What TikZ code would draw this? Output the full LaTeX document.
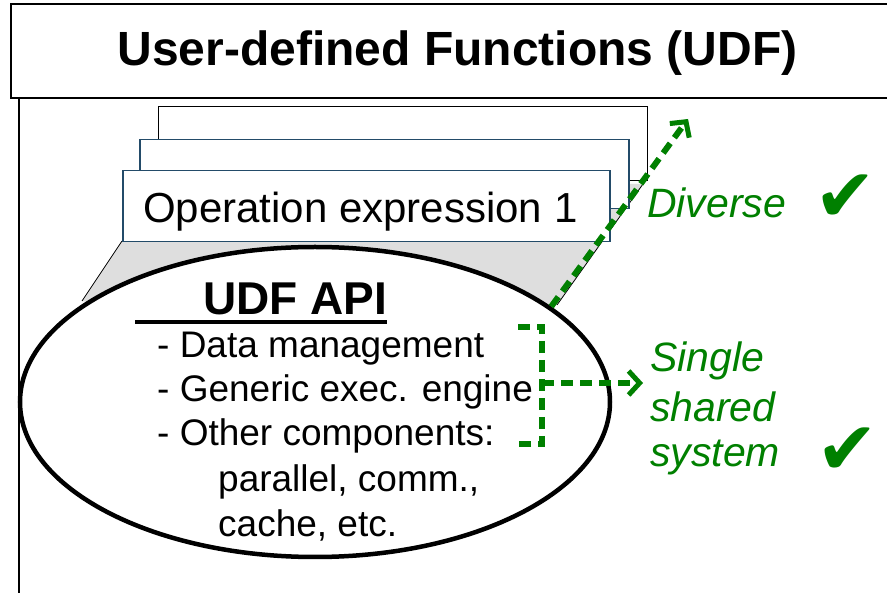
\documentclass[tikz,border=0pt]{standalone}
\usepackage{fontspec}
\setmainfont{Liberation Sans}
\newfontfamily\symfont{DejaVu Sans}
\usetikzlibrary{shapes.geometric,arrows.meta}
\definecolor{okgreen}{RGB}{0,128,0}
\definecolor{rectblue}{RGB}{35,75,105}
\definecolor{shadegray}{RGB}{222,222,222}
\tikzset{
  lbl/.style={inner sep=0pt, anchor=base west},
  itemtext/.style={lbl, font=\fontsize{37}{44}\selectfont},
  gtext/.style={lbl, text=okgreen, font=\fontsize{41}{48}\selectfont\itshape},
  checkmark/.style={lbl, text=okgreen, font=\fontsize{74}{80}\symfont},
  gdash/.style={draw=okgreen, line width=6pt, dash pattern=on 12pt off 7pt},
  gtip/.style={-{Straight Barb[length=11pt,width=24pt,line width=5pt]}},
  paperbox/.style={draw, rectangle, fill=white, anchor=north west, inner sep=0pt}
}
\begin{document}
\begin{tikzpicture}[x=1pt,y=-1pt]
\clip (0,0) rectangle (887,593);
\fill[white] (0,0) rectangle (887,593);
% title box
\node[draw, line width=1.8pt, rectangle, anchor=north west, minimum width=900pt, minimum height=94pt, inner sep=0pt] (titlebox) at (10,3) {};
\node[anchor=base, inner sep=0pt, font=\fontsize{48}{58}\selectfont\bfseries] (title) at (457.5,66) {User-defined Functions (UDF)};
\coordinate (lt) at (19,97);
\coordinate (lb) at (19,600);
\draw[line width=1.8pt] (lt) -- (lb);
% gray shade
\coordinate (gl1) at (122,241);
\coordinate (gl2) at (82,301);
\coordinate (gr1) at (643,184);
\coordinate (gr2) at (557,305);
\fill[shadegray] (gl1) -- (gl2) -- (300,340) -- (gr2) -- (gr1) -- (160,184) -- cycle;
\draw[line width=0.8pt] (gl1) -- (gl2);
\draw[line width=0.8pt] (gr1) -- (gr2);
% stacked rectangles
\node[paperbox, line width=1pt, minimum width=489pt, minimum height=74pt] (r3) at (158,106) {};
\node[paperbox, draw=rectblue, line width=1.5pt, minimum width=489pt, minimum height=69pt] (r2) at (139,139) {};
\node[paperbox, draw=rectblue, line width=1.5pt, minimum width=487pt, minimum height=71pt] (r1) at (122,170) {};
\node[lbl, font=\fontsize{42}{50}\selectfont] (optext) at (143,223) {Operation expression 1};
% ellipse
\node[draw, ellipse, line width=4.5pt, fill=white, minimum width=590pt, minimum height=310pt, inner sep=0pt] (api) at (315,402) {};
\node[lbl, font=\fontsize{46}{55}\selectfont\bfseries] (apititle) at (203,315) {UDF API};
\coordinate (ul) at (135,322);
\draw[line width=3.5pt] (ul) -- (ul -| apititle.east);
\node[itemtext] (i1) at (157,358) {- Data management};
\node[itemtext] (i2) at (157,402) {- Generic exec. engine};
\node[itemtext] (i3) at (157,446) {- Other components:};
\node[itemtext] (i4) at (218,492) {parallel, comm.,};
\node[itemtext] (i5) at (218,537) {cache, etc.};
% green labels
\node[gtext] (div) at (647,218) {Diverse};
\node[checkmark] (ck1) at (814,222) {✔};
\node[gtext] (s1) at (650,372) {Single};
\node[gtext] (s2) at (650,422) {shared};
\node[gtext] (s3) at (650,467) {system};
\node[checkmark] (ck2) at (816,475) {✔};
% green connectors
\coordinate (d1tip) at (688,119);
\draw[gdash, gtip] (api.22) -- (d1tip);
\coordinate (b1) at (518,327);
\coordinate (b2) at (542,327);
\coordinate (b3) at (542,444);
\coordinate (b4) at (518,444);
\draw[gdash] (b1) -- (b2) -- (b3) -- (b4);
\coordinate (bm) at (542,383);
\coordinate (sstip) at (643,383);
\draw[gdash, gtip] (bm) -- (sstip);
\end{tikzpicture}
\end{document}
